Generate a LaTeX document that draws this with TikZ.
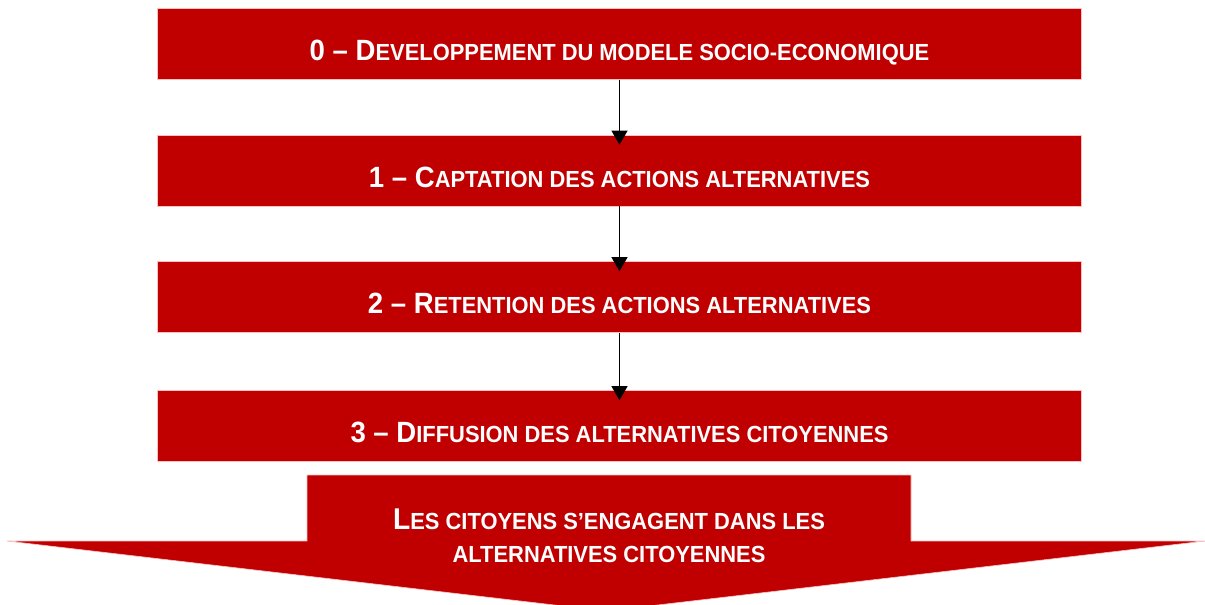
\documentclass[tikz,border=0pt]{standalone}
\usepackage{fontspec}
\setmainfont[FakeStretch=0.94]{Liberation Sans}
\usetikzlibrary{arrows.meta}
\definecolor{stepred}{RGB}{192,0,0}
\newcommand\capsbig[1]{{\fontsize{29.3}{31}\selectfont #1}}

\begin{document}
\begin{tikzpicture}[x=1pt,y=-1pt,
    stepbox/.style={fill=stepred,draw=red!25,line width=0.6pt,minimum width=924pt,
      inner sep=0pt,text height=52pt,text depth=19pt,text=white,
      font=\bfseries\fontsize{23.3}{26}\selectfont},
    flow/.style={-{Triangle[width=16pt,length=14pt]},line width=0.9pt,shorten >=-10pt}]
  \useasboundingbox (0,0) rectangle (1205,605);

  \node[stepbox] (dev) at (619.5,44) {\capsbig{0 – D}EVELOPPEMENT DU MODELE SOCIO-ECONOMIQUE};
  \node[stepbox] (capt) at (619.5,170.5) {\capsbig{1 – C}APTATION DES ACTIONS ALTERNATIVES};
  \node[stepbox] (ret) at (619.5,297) {\capsbig{2 – R}ETENTION DES ACTIONS ALTERNATIVES};
  \node[stepbox] (diff) at (619.5,426) {\capsbig{3 – D}IFFUSION DES ALTERNATIVES CITOYENNES};

  \draw[flow] (dev) -- (capt);
  \draw[flow] (capt) -- (ret);
  \draw[flow] (ret) -- (diff);

  % big arrow at the bottom
  \filldraw[fill=stepred,draw=red!25,line width=0.6pt] (307,475) -- (911,475) -- (911,541)
    -- (1205,541) -- (606,611) -- (7,541) -- (307,541) -- cycle;
  \node[text=white,align=center,font=\bfseries\fontsize{23.3}{33.5}\selectfont] (engage) at (609,536)
    {{\fontsize{30}{33.5}\selectfont L}ES CITOYENS S’ENGAGENT DANS LES\\ALTERNATIVES CITOYENNES};
\end{tikzpicture}
\end{document}
